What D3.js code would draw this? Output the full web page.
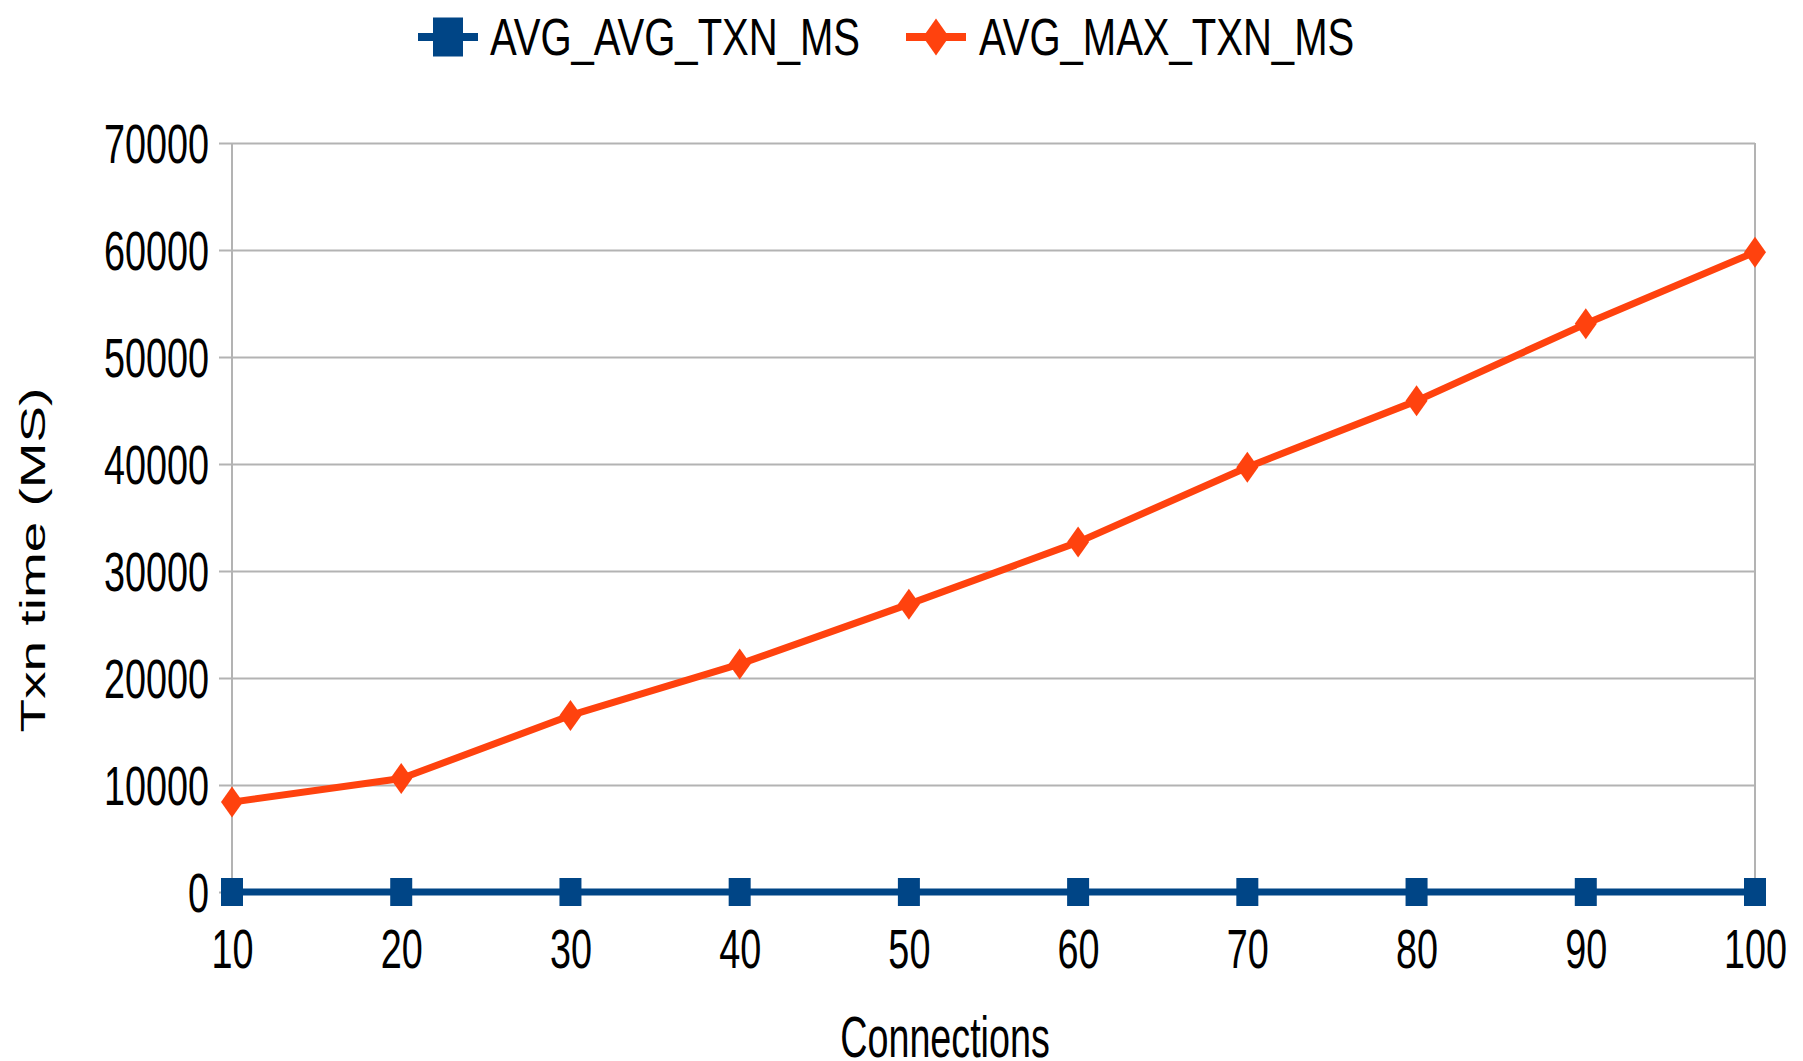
<!DOCTYPE html>
<html>
<head>
<meta charset="utf-8">
<script src="https://cdn.jsdelivr.net/npm/d3@7/dist/d3.min.js"></script>
<style>
  html, body { margin: 0; padding: 0; background: #fff; }
  svg { display: block; }
  text { font-family: "Liberation Sans", Arial, sans-serif; fill: #000; }
</style>
</head>
<body>
<div id="chart"></div>
<script>
/***** Data *****/
var connections = [10, 20, 30, 40, 50, 60, 70, 80, 90, 100];
var avgAvgTxn = [0, 0, 0, 0, 0, 0, 0, 0, 0, 0];
var avgMaxTxn = [8400, 10600, 16500, 21300, 26900, 32700, 39700, 45900, 53100, 59800];
var yTicks = [0, 10000, 20000, 30000, 40000, 50000, 60000, 70000];
var seriesNames = ["AVG_AVG_TXN_MS", "AVG_MAX_TXN_MS"];
var seriesColors = ["#004586", "#ff420e"];

/***** Layout *****/
var W = 1803, H = 1061;
var margin = {top: 143, left: 232, right: 48, bottom: 169};
var plotW = W - margin.left - margin.right;
var plotH = H - margin.top - margin.bottom;
var gridColor = "#b3b3b3";

var svg = d3.select("#chart").append("svg")
  .attr("width", W)
  .attr("height", H);

var x = d3.scaleLinear().domain([10, 100]).range([0, plotW]);
var y = d3.scaleLinear().domain([0, 70000]).range([plotH, 0]);

var plot = svg.append("g")
  .attr("transform", "translate(" + margin.left + "," + margin.top + ")");

// the picture is stretched vertically, so text is squeezed sideways
function squash(sel, dx, dy, sx) {
  sel.attr("x", null).attr("y", null).attr("dy", null)
    .attr("transform", "translate(" + dx + "," + dy + ") scale(" + sx + ",1)");
}

// y axis + horizontal grid
var yAxis = plot.append("g")
  .call(d3.axisLeft(y).tickValues(yTicks).tickFormat(d3.format("d")));
yAxis.select(".domain").remove();
yAxis.selectAll(".tick line")
  .attr("x1", plotW).attr("x2", -13)
  .attr("stroke", gridColor).attr("stroke-width", 2);
yAxis.selectAll(".tick text")
  .attr("font-size", 56)
  .attr("text-anchor", "end")
  .call(squash, -23, 19, 0.675);

// left and right vertical lines
plot.append("line")
  .attr("x1", x(10)).attr("x2", x(10))
  .attr("y1", 0).attr("y2", plotH + 12)
  .attr("stroke", gridColor).attr("stroke-width", 2);
plot.append("line")
  .attr("x1", x(100)).attr("x2", x(100))
  .attr("y1", 0).attr("y2", plotH + 12)
  .attr("stroke", gridColor).attr("stroke-width", 2);

// x axis
var xAxis = plot.append("g")
  .attr("transform", "translate(0," + plotH + ")")
  .call(d3.axisBottom(x).tickValues(connections).tickSize(12));
xAxis.select(".domain").remove();
xAxis.selectAll(".tick line").attr("stroke", gridColor).attr("stroke-width", 2);
xAxis.selectAll(".tick text")
  .attr("font-size", 56)
  .attr("text-anchor", "middle")
  .call(squash, 0, 76, 0.675);

// axis titles
svg.append("text")
  .attr("font-size", 58)
  .attr("text-anchor", "middle")
  .attr("transform", "translate(945,1057) scale(0.65,1)")
  .text("Connections");

svg.append("text")
  .attr("font-size", 35)
  .attr("text-anchor", "middle")
  .attr("transform", "translate(45,560) rotate(-90) scale(1.57,1)")
  .text("Txn time (MS)");

// lines
var line = d3.line()
  .x(function(d) { return x(d.c); })
  .y(function(d) { return y(d.v); });

var series = [avgAvgTxn, avgMaxTxn].map(function(vals) {
  return vals.map(function(v, i) { return {c: connections[i], v: v}; });
});

series.forEach(function(pts, si) {
  plot.append("path")
    .datum(pts)
    .attr("fill", "none")
    .attr("stroke", seriesColors[si])
    .attr("stroke-width", 7)
    .attr("stroke-linejoin", "round")
    .attr("d", line);
});

// markers
function squareAt(g, cx, cy, w, h, color) {
  g.append("rect")
    .attr("x", cx - w / 2).attr("y", cy - h / 2)
    .attr("width", w).attr("height", h)
    .attr("fill", color);
}
function diamondAt(g, cx, cy, w, h, color) {
  g.append("path")
    .attr("d", "M" + cx + "," + (cy - h / 2) + "L" + (cx + w / 2) + "," + cy +
      "L" + cx + "," + (cy + h / 2) + "L" + (cx - w / 2) + "," + cy + "Z")
    .attr("fill", color);
}

series[0].forEach(function(d) {
  squareAt(plot, x(d.c), y(d.v), 22, 28, seriesColors[0]);
});
series[1].forEach(function(d) {
  diamondAt(plot, x(d.c), y(d.v), 22, 31, seriesColors[1]);
});

// legend
var legend = svg.append("g");
var legendItems = [
  {x0: 418, tx: 490, marker: squareAt, w: 30, h: 39},
  {x0: 906, tx: 979, marker: diamondAt, w: 26, h: 37}
];
legendItems.forEach(function(it, i) {
  legend.append("line")
    .attr("x1", it.x0).attr("x2", it.x0 + 60)
    .attr("y1", 37).attr("y2", 37)
    .attr("stroke", seriesColors[i]).attr("stroke-width", 8);
  it.marker(legend, it.x0 + 30, 37, it.w, it.h, seriesColors[i]);
  legend.append("text")
    .attr("font-size", 52)
    .attr("transform", "translate(" + it.tx + ",55) scale(0.77,1)")
    .text(seriesNames[i]);
});
</script>
</body>
</html>
